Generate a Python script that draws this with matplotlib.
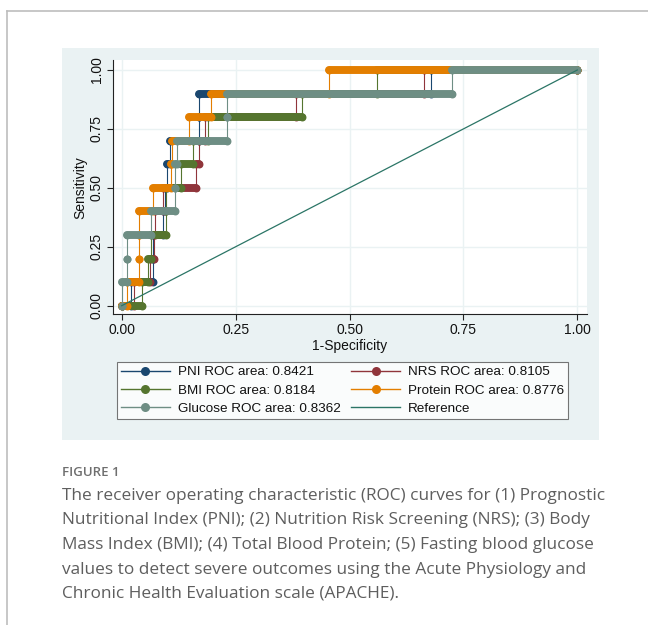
import matplotlib
matplotlib.use("Agg")
import matplotlib.pyplot as plt
from matplotlib.lines import Line2D
from matplotlib.patches import Rectangle

# ---------------- data ----------------
sens_levels = [0.0, 0.1, 0.2, 0.3, 0.4, 0.5, 0.6, 0.7, 0.8, 0.9, 1.0]
# 1-specificity at the right end of each sensitivity level (curve corners)
pni_fpr     = [0.020, 0.069, 0.069, 0.090, 0.095, 0.099, 0.105, 0.170, 0.170, 0.678, 1.0]
nrs_fpr     = [0.027, 0.062, 0.071, 0.073, 0.091, 0.163, 0.170, 0.183, 0.383, 0.664, 1.0]
bmi_fpr     = [0.045, 0.058, 0.065, 0.097, 0.097, 0.130, 0.157, 0.190, 0.395, 0.560, 1.0]
protein_fpr = [0.011, 0.039, 0.039, 0.039, 0.069, 0.108, 0.110, 0.148, 0.197, 0.454, 1.0]
glucose_fpr = [0.000, 0.012, 0.012, 0.065, 0.117, 0.117, 0.122, 0.232, 0.232, 0.724, 1.0]

labels = ["PNI ROC area: 0.8421", "NRS ROC area: 0.8105", "BMI ROC area: 0.8184",
          "Protein ROC area: 0.8776", "Glucose ROC area: 0.8362"]
colors = ["#1A476F", "#90353B", "#55752F", "#E37E00", "#6E8E84"]
ref_color = "#2B7566"
ref_label = "Reference"

xticks = [0.0, 0.25, 0.5, 0.75, 1.0]
yticks = [0.0, 0.25, 0.5, 0.75, 1.0]
tick_labels = ["0.00", "0.25", "0.50", "0.75", "1.00"]

caption_head = "FIGURE 1"
caption_lines = [
    "The receiver operating characteristic (ROC) curves for (1) Prognostic",
    "Nutritional Index (PNI); (2) Nutrition Risk Screening (NRS); (3) Body",
    "Mass Index (BMI); (4) Total Blood Protein; (5) Fasting blood glucose",
    "values to detect severe outcomes using the Acute Physiology and",
    "Chronic Health Evaluation scale (APACHE).",
]

# ---------------- figure ----------------
plt.rcParams["font.family"] = ["Liberation Sans", "DejaVu Sans"]
W, H = 648, 625
fig = plt.figure(figsize=(W / 100, H / 100), dpi=100)
fig.patch.set_facecolor("white")

def fx(px):
    return px / W

def fy(py):
    return 1 - py / H

# card border
fig.add_artist(Line2D([fx(7), fx(7)], [fy(11), 0], transform=fig.transFigure, color="#BDBDBD", lw=1.2))
fig.add_artist(Line2D([fx(7), 1], [fy(11), fy(11)], transform=fig.transFigure, color="#BDBDBD", lw=1.2))

# Stata graph region
fig.add_artist(Rectangle((fx(62), fy(440)), fx(599) - fx(62), fy(48) - fy(440),
                         transform=fig.transFigure, facecolor="#EAF2F3", edgecolor="none", zorder=0))

# plot axes
ax_l, ax_r, ax_t, ax_b = 112.7, 587, 60, 314.3
ax = fig.add_axes([fx(ax_l), fy(ax_b), fx(ax_r) - fx(ax_l), fy(ax_t) - fy(ax_b)])
ax.set_facecolor("white")

x0px, unitx = 121.7, 455.6
y0px, unity = 305.7, 235.7
ax.set_xlim((ax_l - x0px) / unitx, (ax_r - x0px) / unitx)
ax.set_ylim((y0px - ax_b) / unity, (y0px - ax_t) / unity)

ax.set_xticks(xticks)
ax.set_xticklabels(tick_labels)
ax.set_yticks(yticks)
ax.set_yticklabels(tick_labels, rotation=90, va="center")
ax.grid(True, color="#EAF2F3", lw=1.0)
ax.set_axisbelow(True)
for s in ["top", "right"]:
    ax.spines[s].set_visible(False)
for s in ["left", "bottom"]:
    ax.spines[s].set_color("#222222")
    ax.spines[s].set_linewidth(0.8)
ax.tick_params(axis="both", direction="out", length=4, width=0.8, color="#222222",
               labelsize=10, labelcolor="#111111", pad=2.5)
ax.set_xlabel("1-Specificity", fontsize=10, labelpad=1, color="#111111")
ax.set_ylabel("Sensitivity", fontsize=10, labelpad=2, color="#111111")

curves = [pni_fpr, nrs_fpr, bmi_fpr, protein_fpr, glucose_fpr]
band = 5.7
for fpr, col in zip(curves, colors):
    xs, ys = [0.0], [0.0]
    start = 0.0
    segs = []
    for s, e in zip(sens_levels, fpr):
        xs += [start, e]
        ys += [s, s]
        segs.append((start, e, s))
        start = e
    ax.plot(xs, ys, color=col, lw=0.8, zorder=3, clip_on=False)
    for a, b, s in segs:
        ax.plot([a, b], [s, s], color=col, lw=band, solid_capstyle="round",
                marker="o", ms=band, mew=0, zorder=3, clip_on=False)

ax.plot([0, 1], [0, 1], color=ref_color, lw=0.9, zorder=4)

# legend
handles = []
for lab, col in zip(labels, colors):
    handles.append(Line2D([0], [0], color=col, lw=1.0, marker="o", ms=6.5, mew=0, label=lab))
ref_handle = Line2D([0], [0], color=ref_color, lw=1.0, label=ref_label)
order = [handles[0], handles[2], handles[4], handles[1], handles[3], ref_handle]
leg = fig.legend(handles=order, ncol=2, loc="center",
                 bbox_to_anchor=(fx(117), fy(422), fx(568) - fx(117), fy(359) - fy(422)),
                 mode="expand", frameon=True, fancybox=False, fontsize=9.7,
                 handlelength=3.6, handletextpad=0.6, labelspacing=0.45, borderpad=0.3,
                 columnspacing=1.0, borderaxespad=0)
leg.get_frame().set_edgecolor("#555555")
leg.get_frame().set_linewidth(0.8)
for t in leg.get_texts():
    t.set_color("#111111")

# caption
fig.text(fx(62), fy(472), caption_head, fontsize=9.5, color="#6F6F6F", family="Open Sans",
         weight="semibold", va="center", ha="left")
for i, line in enumerate(caption_lines):
    fig.text(fx(62), fy(496 + i * 24.5), line, fontsize=12.4, color="#5E5E5E",
             family="Open Sans", va="center", ha="left")

fig.savefig("out.png", dpi=100, facecolor="white")
